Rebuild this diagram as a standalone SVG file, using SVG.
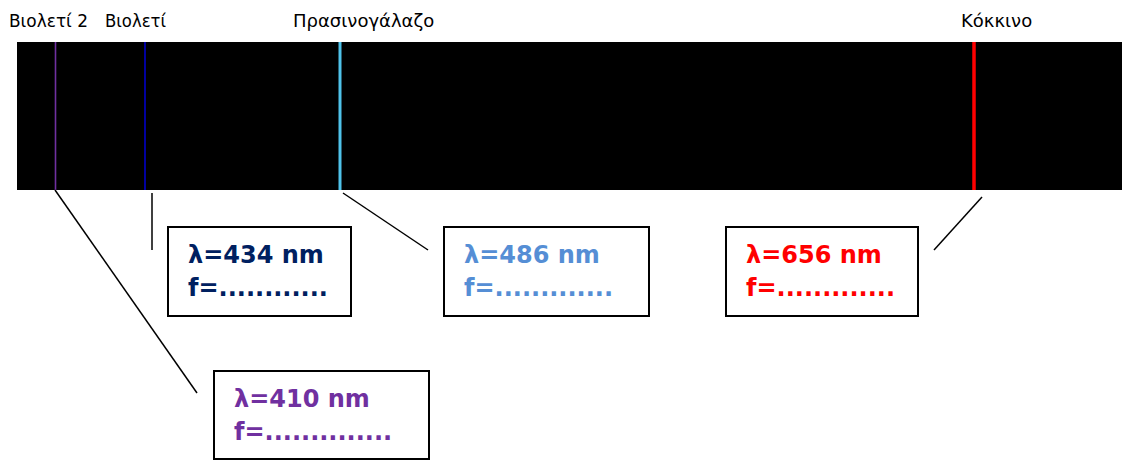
<svg xmlns="http://www.w3.org/2000/svg" width="1122" height="461" viewBox="0 0 1122 461">
  <style>
    .title { font-family: "DejaVu Sans", Verdana, sans-serif; font-size: 18px; fill: #000; }
    .val { font-family: "DejaVu Sans", Verdana, sans-serif; font-size: 24px; font-weight: bold; }
    .box { fill: #fff; stroke: #000; stroke-width: 2; }
    .lead { stroke: #000; stroke-width: 1.5; fill: none; }
  </style>
  <rect width="1122" height="461" fill="#fff"/>

  <!-- spectrum band with emission lines -->
  <g id="spectrum">
    <rect x="17" y="42" width="1105" height="148" fill="#000"/>
    <line x1="55.5" y1="42" x2="55.5" y2="190" stroke="#7030A0" stroke-width="1.6"/>
    <line x1="145" y1="42" x2="145" y2="190" stroke="#0000C8" stroke-width="1.6"/>
    <line x1="340" y1="42" x2="340" y2="190" stroke="#4FC3EA" stroke-width="3"/>
    <line x1="974" y1="42" x2="974" y2="190" stroke="#FF0000" stroke-width="3.5"/>
  </g>

  <!-- colour names above the band -->
  <g id="titles">
    <text class="title" x="9" y="27" textLength="79" lengthAdjust="spacingAndGlyphs">Βιολετί 2</text>
    <text class="title" x="105" y="27" textLength="61" lengthAdjust="spacingAndGlyphs">Βιολετί</text>
    <text class="title" x="293" y="27">Πρασινογάλαζο</text>
    <text class="title" x="961" y="27">Κόκκινο</text>
  </g>

  <!-- leader lines -->
  <g id="connectors">
    <line class="lead" x1="55" y1="190" x2="197" y2="393"/>
    <line class="lead" x1="152" y1="193" x2="152" y2="250"/>
    <line class="lead" x1="343" y1="193" x2="428" y2="250"/>
    <line class="lead" x1="982" y1="197" x2="934" y2="250"/>
  </g>

  <g id="box434">
    <rect class="box" x="168" y="227" width="183" height="89"/>
    <text class="val" fill="#002060" x="188" y="263">λ=434 nm</text>
    <text class="val" fill="#002060" x="188" y="296">f=............</text>
  </g>

  <g id="box486">
    <rect class="box" x="444" y="227" width="205" height="89"/>
    <text class="val" fill="#558ED5" x="464" y="263">λ=486 nm</text>
    <text class="val" fill="#558ED5" x="464" y="296">f=.............</text>
  </g>

  <g id="box656">
    <rect class="box" x="726" y="227" width="192" height="89"/>
    <text class="val" fill="#FF0000" x="746" y="263">λ=656 nm</text>
    <text class="val" fill="#FF0000" x="746" y="296">f=.............</text>
  </g>

  <g id="box410">
    <rect class="box" x="214" y="371" width="215" height="88"/>
    <text class="val" fill="#7030A0" x="234" y="407">λ=410 nm</text>
    <text class="val" fill="#7030A0" x="234" y="440">f=..............</text>
  </g>
</svg>
